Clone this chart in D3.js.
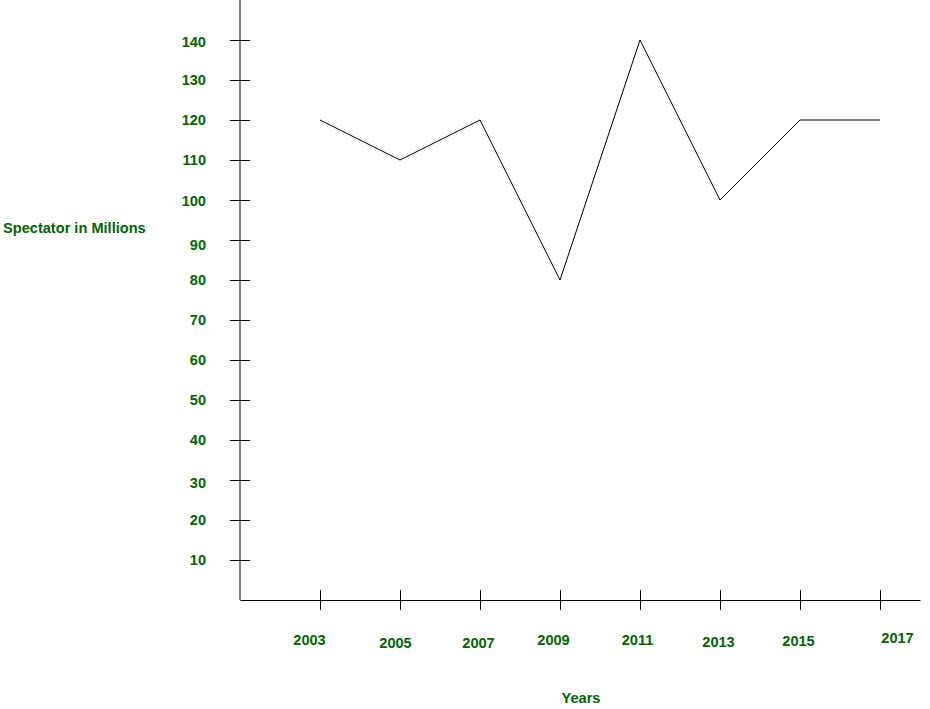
<!DOCTYPE html>
<html>
<head>
<meta charset="utf-8">
<script src="https://cdn.jsdelivr.net/npm/d3@7"></script>
<style>
  body { margin: 0; background: #fff; }
  svg text { font-family: "Liberation Sans", Arial, sans-serif; font-weight: bold; font-size: 14.6px; fill: #006600; }
  .axis path, .axis line { stroke: #000; }
</style>
</head>
<body>
<svg id="chart" width="930" height="709"></svg>
<script>
// data
var years = [2003, 2005, 2007, 2009, 2011, 2013, 2015, 2017];
var spectators = [120, 110, 120, 80, 140, 100, 120, 120];
var yTicks = [10, 20, 30, 40, 50, 60, 70, 80, 90, 100, 110, 120, 130, 140];

// hand-placed label nudges seen in the original drawing (layout only)
var xLabelShift = [[-11, -1], [-5, 2], [-2, 2], [-7, -1], [-3, -1], [-2, 1], [-2, 0], [17, -3]];
var yLabelShift = {90: 5, 30: 3, 100: 1, 140: 2};

var svg = d3.select("#chart");

var x = d3.scaleLinear().domain([2001, 2018]).range([240, 920]),
    y = d3.scaleLinear().domain([0, 150]).range([600, 0]);

// y axis
var gy = svg.append("g")
    .attr("class", "axis axis--y")
    .attr("transform", "translate(240,0)")
    .call(d3.axisLeft(y).tickValues(yTicks).tickSize(10).tickSizeOuter(0).tickPadding(24));
gy.selectAll(".tick line").attr("x1", 10);
gy.selectAll(".tick text")
    .attr("fill", null)
    .attr("y", function(d) { return yLabelShift[d] || 0; })
    .style("font-size", "14.6px");
gy.select(".domain").attr("d", "M0," + y(0) + "V" + y(150));

// x axis
var gx = svg.append("g")
    .attr("class", "axis axis--x")
    .attr("transform", "translate(0,600)")
    .call(d3.axisBottom(x).tickValues(years).tickFormat(d3.format("d")).tickSize(10).tickSizeOuter(0).tickPadding(26));
gx.selectAll(".tick line").attr("y1", -10);
gx.selectAll(".tick text")
    .attr("fill", null)
    .attr("dx", function(d, i) { return xLabelShift[i][0]; })
    .attr("y", function(d, i) { return 36 + xLabelShift[i][1]; })
    .style("font-size", "14.6px");

// line
var line = d3.line()
    .x(function(d, i) { return x(years[i]); })
    .y(function(d) { return y(d); });

svg.append("path")
    .datum(spectators)
    .attr("d", line)
    .attr("fill", "none")
    .attr("stroke", "#000")
    .attr("stroke-width", 1);

// axis titles
svg.append("text")
    .attr("x", 3)
    .attr("y", 233)
    .text("Spectator in Millions");

svg.append("text")
    .attr("x", 581)
    .attr("y", 703)
    .attr("text-anchor", "middle")
    .text("Years");
</script>
</body>
</html>
